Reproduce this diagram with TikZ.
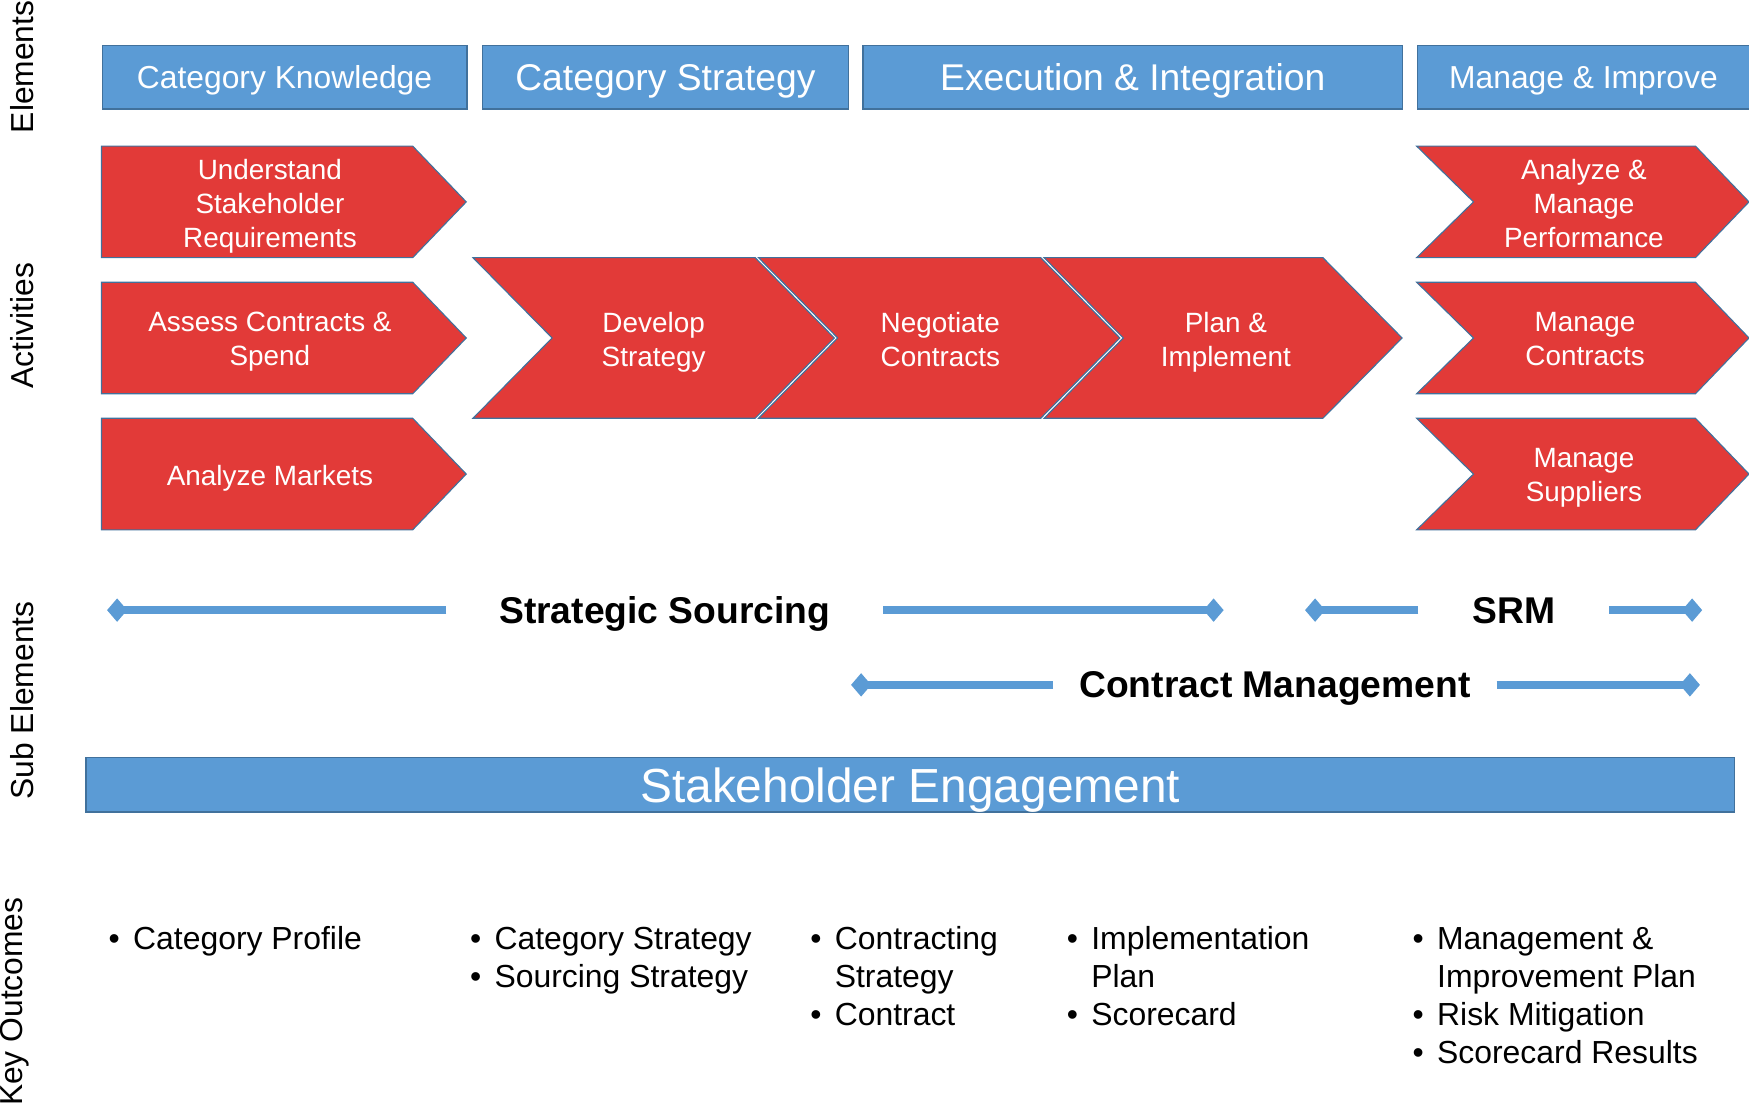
\documentclass[tikz,border=0pt]{standalone}
\usepackage{fontspec}
\setmainfont{Liberation Sans}
\usepackage{tikz}
\usetikzlibrary{arrows.meta, positioning}
\definecolor{barBlue}{HTML}{5B9BD5}
\definecolor{barEdge}{HTML}{41719C}
\definecolor{actRed}{HTML}{E23A38}
\tikzset{
  sidelabel/.style={rotate=90, anchor=base, inner sep=0pt, font=\fontsize{14.25pt}{17pt}\selectfont},
  header/.style={draw=barEdge, line width=0.6pt, fill=barBlue, text=white, anchor=north west,
    inner sep=0pt, text depth=0pt, minimum height=28.5pt},
  chevron/.style={draw=barEdge, line width=0.5pt, fill=actRed},
  acttext/.style={text=white, align=center, inner sep=0pt, text depth=0pt,
    font=\fontsize{12.5pt}{15.25pt}\selectfont},
  subtext/.style={inner ysep=0pt, text depth=0pt, font=\fontsize{16.7pt}{20pt}\selectfont\bfseries},
  subline/.style={draw=barBlue, line width=3.5pt, -{Diamond[length=9pt, width=10.5pt]}},
  outcome/.style={anchor=base west, inner sep=0pt, font=\fontsize{14.3pt}{17pt}\selectfont}
}

\begin{document}
\begin{tikzpicture}[x=0.5pt, y=-0.5pt]
\useasboundingbox (0,0) rectangle (1568,994);

% row labels down the left side
\node[sidelabel] (lbElem) at (30,60) {Elements};
\node[sidelabel] (lbAct) at (30,292) {Activities};
\node[sidelabel] (lbSub) at (30,628) {Sub Elements};
\node[sidelabel] (lbKey) at (20,898) {Key Outcomes};

% element headers
\node[header, minimum width=163.5pt, font=\fontsize{14.25pt}{17pt}\selectfont] (catKnow) at (91,40) {Category Knowledge};
\node[header, minimum width=164pt, font=\fontsize{16.7pt}{20pt}\selectfont] (catStrat) at (432,40) {Category Strategy};
\node[header, minimum width=242pt, font=\fontsize{16.7pt}{20pt}\selectfont] (execInt) at (773,40) {Execution \& Integration};
\node[header, minimum width=149pt, font=\fontsize{14.25pt}{17pt}\selectfont] (manImp) at (1270,40) {Manage \& Improve};

% activities, first column
\draw[chevron] (91,131) -- (370,131) -- (418,181) -- (370,231) -- (91,231) -- cycle;
\draw[chevron] (91,253) -- (370,253) -- (418,303) -- (370,353) -- (91,353) -- cycle;
\draw[chevron] (91,375) -- (370,375) -- (418,425) -- (370,475) -- (91,475) -- cycle;
\node[acttext] (understand) at (242,182) {Understand\\Stakeholder\\Requirements};
\node[acttext] (assess) at (242,304) {Assess Contracts \&\\Spend};
\node[acttext] (markets) at (242,426) {Analyze Markets};

% activities, the long process row
\draw[chevron] (424,231) -- (677,231) -- (748,303) -- (677,375) -- (424,375) -- (495,303) -- cycle;
\draw[chevron] (680,231) -- (933,231) -- (1004,303) -- (933,375) -- (680,375) -- (751,303) -- cycle;
\draw[chevron] (936,231) -- (1186,231) -- (1257,303) -- (1186,375) -- (936,375) -- (1007,303) -- cycle;
\node[acttext] (develop) at (586,304) {Develop\\Strategy};
\node[acttext] (negotiate) at (843,304) {Negotiate\\Contracts};
\node[acttext] (plan) at (1099,304) {Plan \&\\Implement};

% activities, last column
\draw[chevron] (1270,131) -- (1520,131) -- (1568,181) -- (1520,231) -- (1270,231) -- (1321,181) -- cycle;
\draw[chevron] (1270,253) -- (1520,253) -- (1568,303) -- (1520,353) -- (1270,353) -- (1321,303) -- cycle;
\draw[chevron] (1270,375) -- (1520,375) -- (1568,425) -- (1520,475) -- (1270,475) -- (1321,425) -- cycle;
\node[acttext] (perform) at (1420,182) {Analyze \&\\Manage\\Performance};
\node[acttext] (contracts) at (1421,304) {Manage\\Contracts};
\node[acttext] (suppliers) at (1420,426) {Manage\\Suppliers};

% sub elements with their spans
\node[subtext, inner xsep=23.5pt] (sourcing) at (596,547) {Strategic Sourcing};
\node[subtext, inner xsep=24pt] (srm) at (1357,547) {SRM};
\node[subtext, inner xsep=11.5pt] (contrMgmt) at (1143,614) {Contract Management};
\coordinate (sourcingL) at (96,547);
\coordinate (sourcingR) at (1097,547);
\coordinate (srmL) at (1170,547);
\coordinate (srmR) at (1526,547);
\coordinate (contrMgmtL) at (763,614);
\coordinate (contrMgmtR) at (1524,614);
\draw[subline] (sourcing) -- (sourcingL);
\draw[subline] (sourcing) -- (sourcingR);
\draw[subline] (srm) -- (srmL);
\draw[subline] (srm) -- (srmR);
\draw[subline] (contrMgmt) -- (contrMgmtL);
\draw[subline] (contrMgmt) -- (contrMgmtR);

\node[draw=barEdge, line width=0.6pt, fill=barBlue, text=white, inner sep=0pt, text depth=0pt,
  minimum width=739pt, minimum height=24.5pt, font=\fontsize{21.45pt}{24pt}\selectfont]
  (engage) at (816,703.5) {Stakeholder Engagement};

% key outcomes
\node[outcome] (outKnow) at (97,851) {\begin{tabular}[t]{@{}l@{\hspace{6pt}}l@{}}
  \textbullet & Category Profile\end{tabular}};
\node[outcome] (outStrat) at (421,851) {\begin{tabular}[t]{@{}l@{\hspace{6pt}}l@{}}
  \textbullet & Category Strategy\\
  \textbullet & Sourcing Strategy\end{tabular}};
\node[outcome] (outContr) at (726,851) {\begin{tabular}[t]{@{}l@{\hspace{6pt}}l@{}}
  \textbullet & Contracting\\
   & Strategy\\
  \textbullet & Contract\end{tabular}};
\node[outcome] (outPlan) at (956,851) {\begin{tabular}[t]{@{}l@{\hspace{6pt}}l@{}}
  \textbullet & Implementation\\
   & Plan\\
  \textbullet & Scorecard\end{tabular}};
\node[outcome] (outImp) at (1266,851) {\begin{tabular}[t]{@{}l@{\hspace{6pt}}l@{}}
  \textbullet & Management \&\\
   & Improvement Plan\\
  \textbullet & Risk Mitigation\\
  \textbullet & Scorecard Results\end{tabular}};
\end{tikzpicture}
\end{document}
